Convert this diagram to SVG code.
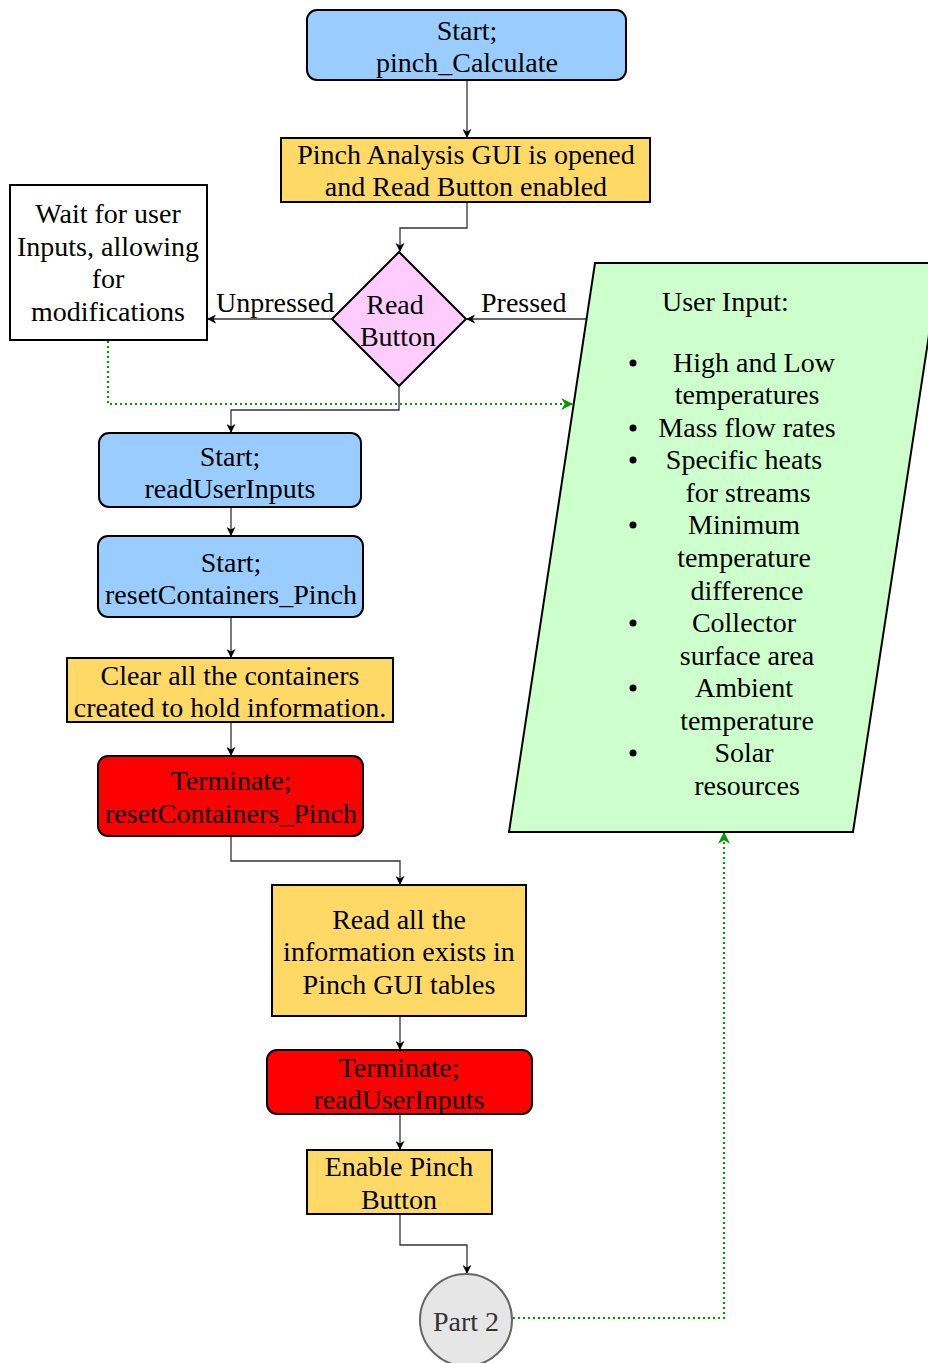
<svg xmlns="http://www.w3.org/2000/svg" width="928" height="1363" viewBox="0 0 928 1363">
  <defs>
    <marker id="arr" viewBox="0 0 10 10" refX="9" refY="5" markerWidth="9" markerHeight="9" markerUnits="userSpaceOnUse" orient="auto">
      <path d="M0,0 L10,5 L0,10 L3,5 Z" fill="#000"/>
    </marker>
    <marker id="arrG" viewBox="0 0 10 10" refX="9" refY="5" markerWidth="12" markerHeight="12" markerUnits="userSpaceOnUse" orient="auto">
      <path d="M0,0 L10,5 L0,10 L3,5 Z" fill="#009900"/>
    </marker>
    <style>
      text { font-family: "Liberation Serif", "Times New Roman", serif; font-size: 28px; fill: #000; text-anchor: middle; }
      .node { stroke: #000; stroke-width: 2; }
      .start { fill: #99CCFF; }
      .proc { fill: #FFD966; }
      .term { fill: #FF0000; }
      .edge { fill: none; stroke: #333; stroke-width: 1.3; marker-end: url(#arr); }
      .dot { fill: none; stroke: #009900; stroke-width: 2.2; stroke-dasharray: 2 3; marker-end: url(#arrG); }
      .lbl { text-anchor: start; }
    </style>
  </defs>
  <rect width="928" height="1363" fill="#fff"/>

  <!-- connectors -->
  <g id="connectors">
    <path class="edge" d="M467,80 V137"/>
    <path class="edge" d="M467,202 V228 H400 V251"/>
    <path class="edge" d="M332,319 H208"/>
    <path class="edge" d="M588,319 H467"/>
    <path class="dot" d="M108,341 V404 H572"/>
    <path class="edge" d="M399,386 V410 H231 V432"/>
    <path class="edge" d="M231,507 V535"/>
    <path class="edge" d="M231,617 V657"/>
    <path class="edge" d="M231,722 V755"/>
    <path class="edge" d="M231,836 V861 H400 V884"/>
    <path class="edge" d="M400,1016 V1049"/>
    <path class="edge" d="M400,1114 V1149"/>
    <path class="edge" d="M400,1214 V1245 H467 V1273"/>
    <path class="dot" d="M513,1318 H724 V833"/>
    <text class="lbl" x="216" y="312">Unpressed</text>
    <text class="lbl" x="481" y="312">Pressed</text>
  </g>

  <g id="start-pinch">
    <rect class="node start" x="307" y="10" width="319" height="70" rx="10"/>
    <text x="467" y="40">Start;</text>
    <text x="467" y="72">pinch_Calculate</text>
  </g>

  <g id="gui-opened">
    <rect class="node proc" x="281" y="138" width="369" height="64"/>
    <text x="466" y="164">Pinch Analysis GUI is opened</text>
    <text x="466" y="196">and Read Button enabled</text>
  </g>

  <g id="wait-input">
    <rect class="node" x="10" y="185" width="197" height="155" fill="#fff"/>
    <text x="108" y="223">Wait for user</text>
    <text x="108" y="256">Inputs, allowing</text>
    <text x="108" y="288">for</text>
    <text x="108" y="321">modifications</text>
  </g>

  <g id="read-button">
    <path class="node" d="M399,252 L466,319 L399,386 L332,319 Z" fill="#FFCCFF"/>
    <text x="395" y="314">Read</text>
    <text x="398" y="346">Button</text>
  </g>

  <g id="user-input">
    <path class="node" d="M595,263 L940,263 L853,832 L509,832 Z" fill="#CCFFCC"/>
    <text class="lbl" x="662" y="311">User Input:</text>
    <g fill="#000">
      <circle cx="633" cy="363" r="3.5"/>
      <circle cx="633" cy="428" r="3.5"/>
      <circle cx="633" cy="460" r="3.5"/>
      <circle cx="633" cy="525" r="3.5"/>
      <circle cx="633" cy="623" r="3.5"/>
      <circle cx="633" cy="688" r="3.5"/>
      <circle cx="633" cy="753" r="3.5"/>
    </g>
    <text x="754" y="372">High and Low</text>
    <text x="747" y="404">temperatures</text>
    <text x="747" y="437">Mass flow rates</text>
    <text x="744" y="469">Specific heats</text>
    <text x="748" y="502">for streams</text>
    <text x="744" y="534">Minimum</text>
    <text x="744" y="567">temperature</text>
    <text x="747" y="600">difference</text>
    <text x="744" y="632">Collector</text>
    <text x="747" y="665">surface area</text>
    <text x="744" y="697">Ambient</text>
    <text x="747" y="730">temperature</text>
    <text x="744" y="762">Solar</text>
    <text x="747" y="795">resources</text>
  </g>

  <g id="start-read">
    <rect class="node start" x="99" y="433" width="262" height="74" rx="10"/>
    <text x="230" y="466">Start;</text>
    <text x="230" y="498">readUserInputs</text>
  </g>

  <g id="start-reset">
    <rect class="node start" x="98" y="536" width="265" height="81" rx="10"/>
    <text x="231" y="572">Start;</text>
    <text x="231" y="604">resetContainers_Pinch</text>
  </g>

  <g id="clear-containers">
    <rect class="node proc" x="67" y="658" width="326" height="64"/>
    <text x="230" y="685">Clear all the containers</text>
    <text x="230" y="717">created to hold information.</text>
  </g>

  <g id="term-reset">
    <rect class="node term" x="98" y="756" width="265" height="80" rx="10"/>
    <text x="231" y="790">Terminate;</text>
    <text x="231" y="823">resetContainers_Pinch</text>
  </g>

  <g id="read-tables">
    <rect class="node proc" x="272" y="885" width="254" height="131"/>
    <text x="399" y="929">Read all the</text>
    <text x="399" y="961">information exists in</text>
    <text x="399" y="994">Pinch GUI tables</text>
  </g>

  <g id="term-read">
    <rect class="node term" x="267" y="1050" width="265" height="64" rx="10"/>
    <text x="399" y="1077">Terminate;</text>
    <text x="399" y="1109">readUserInputs</text>
  </g>

  <g id="enable-pinch">
    <rect class="node proc" x="307" y="1150" width="185" height="64"/>
    <text x="399" y="1176">Enable Pinch</text>
    <text x="399" y="1209">Button</text>
  </g>

  <g id="part2">
    <circle cx="466" cy="1320" r="46" fill="#E6E6E6" stroke="#666" stroke-width="2"/>
    <text x="466" y="1331" style="fill:#333">Part 2</text>
  </g>
</svg>
